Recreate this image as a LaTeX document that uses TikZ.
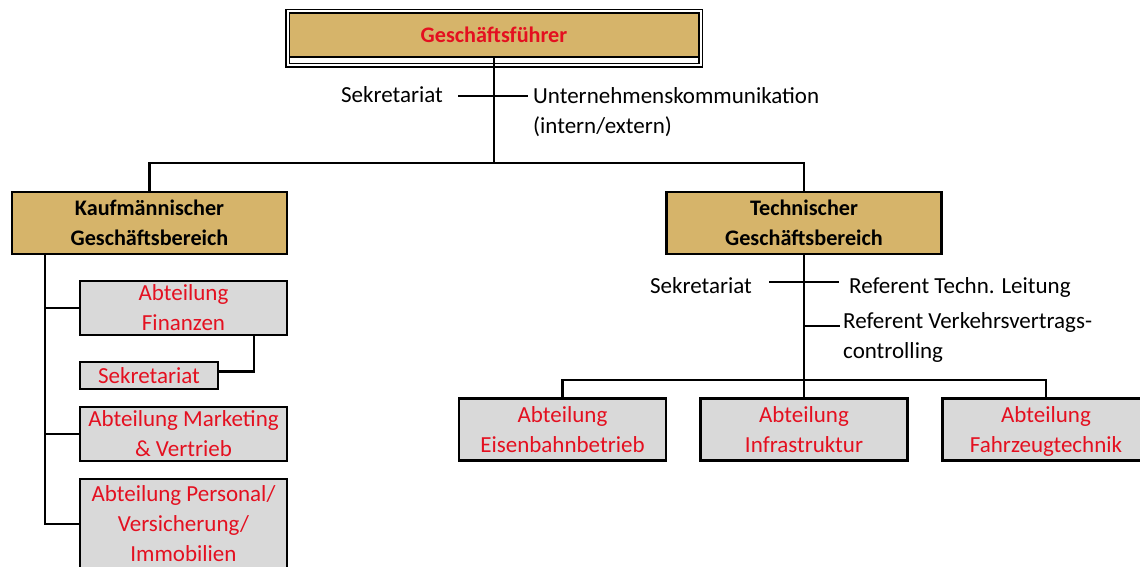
\documentclass[tikz,border=0pt]{standalone}
\usepackage{fontspec}
\setmainfont{Carlito}
\usetikzlibrary{calc}
\definecolor{boxtan}{RGB}{214,180,106}
\definecolor{boxgray}{RGB}{217,217,217}
\definecolor{deptred}{RGB}{228,16,32}
\newcommand{\orgfont}{\fontsize{23}{30}\selectfont}
\newcommand{\orgbold}{\fontsize{22.2}{30}\selectfont\bfseries}
\begin{document}
\begin{tikzpicture}[x=1pt,y=-1pt,
  link/.style={line width=2.4pt},
  unitbox/.style={draw, line width=2.4pt, fill=boxtan, font=\orgbold,
    align=center, inner sep=0pt, text depth=0pt, minimum width=275pt, minimum height=62pt},
  deptbox/.style={draw, line width=2.4pt, fill=boxgray, text=deptred, font=\orgfont,
    align=center, inner sep=0pt, text depth=-3pt, minimum width=207pt, minimum height=54pt},
  plaintext/.style={font=\orgfont, inner sep=0pt}
]
\useasboundingbox (0,0) rectangle (1140,567);
\clip (0,0) rectangle (1140,567);

% managing director with its double frame
\node[fill=boxtan, text=deptred, font=\orgbold, inner sep=0pt,
  minimum width=408pt, minimum height=44pt] (gf) at (494,35) {Geschäftsführer};
\draw[line width=2.2pt] (gf.south west) -- (gf.south east);
\draw[double, line width=1.5pt, double distance=2pt] (287.5,11.5) rectangle (700.5,65.5);

% staff positions of the managing director
\node[plaintext, anchor=base east] (sek0) at (443,103) {Sekretariat};
\node[plaintext, anchor=base west, align=left] (uk) at (533,134)
  {Unternehmenskommunikation\\(intern/extern)};
\draw[link] ($(sek0.base east)+(15,-7)$) -- ($(uk.base west)+(-5,-38)$);

% business divisions
\node[unitbox] (kb) at (149.5,223) {Kaufmännischer\\Geschäftsbereich};
\node[unitbox] (tb) at (804,223) {Technischer\\Geschäftsbereich};
\coordinate (bus) at (494,163);
\draw[link] (gf.south) -- (bus);
\draw[link] (kb.north) |- (bus) -| (tb.north);

% commercial departments
\node[deptbox] (fin) at (183.5,308) {Abteilung\\Finanzen};
\node[deptbox, minimum width=138pt, minimum height=27pt] (sek1) at (149,375.5) {Sekretariat};
\node[deptbox] (mkt) at (183.5,434) {Abteilung Marketing\\\& Vertrieb};
\node[deptbox, minimum height=90pt] (pers) at (183.5,524)
  {Abteilung Personal/\\Versicherung/\\Immobilien};
\coordinate (lbus) at ($(kb.south west)+(34,0)$);
\draw[link] (lbus) |- (pers.west);
\draw[link] (lbus |- fin.west) -- (fin.west);
\draw[link] (lbus |- mkt.west) -- (mkt.west);
\draw[link] ($(fin.south east)+(-34,0)$) |- ($(sek1.east)+(0,-4)$);

% staff positions of the technical division
\node[plaintext, anchor=base east] (sek2) at (752,293) {Sekretariat};
\node[plaintext, anchor=base west] (rtl) at (849,293) {Referent Techn. Leitung};
\draw[link] ($(sek2.base east)+(17,-11)$) -- ($(rtl.base west)+(-10,-11)$);
\node[plaintext, anchor=base west, align=left] (rvc) at (843,358)
  {Referent Verkehrsvertrags-\\controlling};
\coordinate (rvcin) at ($(rvc.base west)+(-3,-32)$);
\draw[link] (tb.south |- rvcin) -- (rvcin);

% technical departments
\node[deptbox, minimum height=62pt] (eis) at (562.5,429.5) {Abteilung\\Eisenbahnbetrieb};
\node[deptbox, minimum height=62pt] (inf) at (804,429.5) {Abteilung\\Infrastruktur};
\node[deptbox, minimum height=62pt] (fzt) at (1046,429.5) {Abteilung\\Fahrzeugtechnik};
\coordinate (tbus) at (804,380);
\draw[link] (tb.south) -- (inf.north);
\draw[link] (eis.north) |- (tbus) -| (fzt.north);
\end{tikzpicture}
\end{document}
